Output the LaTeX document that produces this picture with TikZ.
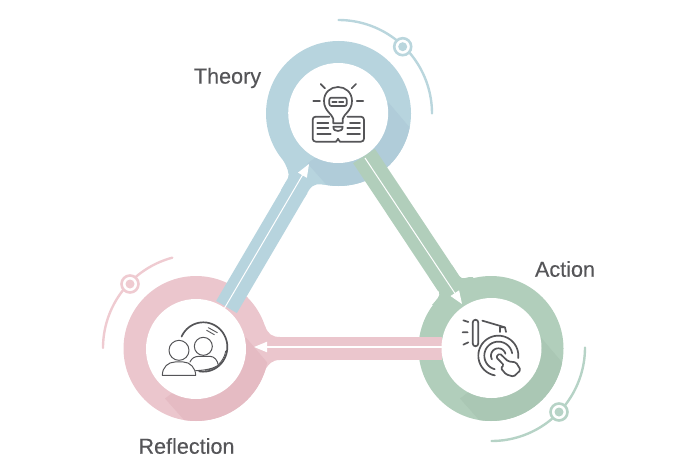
\documentclass[tikz,border=0pt]{standalone}
\usepackage{fontspec}
\setmainfont[FakeBold=0.25]{Liberation Sans}
\usetikzlibrary{arrows.meta,calc}
\definecolor{blueR}{HTML}{B7D4DE}
\definecolor{blueD}{HTML}{B0CCD9}
\definecolor{blueA}{HTML}{BAD6DD}
\definecolor{greenR}{HTML}{B1CEBB}
\definecolor{greenD}{HTML}{AAC7B4}
\definecolor{greenA}{HTML}{B6D3C6}
\definecolor{pinkR}{HTML}{EBC6CD}
\definecolor{pinkD}{HTML}{E5BBC3}
\definecolor{pinkA}{HTML}{EFCBD1}
\definecolor{ink}{HTML}{555558}
\tikzset{
  ring/.style={circle,minimum size=145pt,inner sep=0pt,fill=#1},
  hole/.style={circle,minimum size=100pt,inner sep=0pt,fill=white},
  label text/.style={font=\fontsize{21.6}{24}\selectfont,text=ink,inner sep=0pt},
  band/.style={line width=#1},
  whitearrow/.style={draw=white,line width=1pt,-{Triangle[length=13pt,width=10pt,fill=white]}},
  orbit/.style={line width=2.4pt,line cap=round,smooth},
  markerring/.style={circle,minimum size=17pt,inner sep=0pt,fill=white,line width=2.6pt,draw=#1},
  markerdot/.style={circle,minimum size=9pt,inner sep=0pt,fill=#1},
  ic/.style={draw=ink,line width=1.7pt,line cap=round,line join=round}
}
\begin{document}
\begin{tikzpicture}[x=1pt,y=-1pt]
\useasboundingbox (0,0) rectangle (690,460);
% flares, under the rings
\fill[blueR] (281,190) -- (288,178) .. controls (290,174) and (287,167) .. (283,160) -- (320,150) -- (327,185) .. controls (318,184) and (314,183) .. (309,190) -- (305,197) -- cycle;
\fill[greenR] (430,278) -- (439,292) .. controls (441,296) and (436,300) .. (432,305) -- (480,300) -- (473,277) .. controls (467,276) and (463,281) .. (459,276) -- (452,265) -- cycle;
\fill[pinkR] (280,337) .. controls (272,337) and (268,334) .. (265,326) -- (250,350) -- (264,372) .. controls (268,364) and (272,360) .. (280,360) -- cycle;
% rings
\node[ring=blueR]  (T) at (338.5,113.5) {};
\node[ring=greenR] (A) at (491,348.5) {};
\node[ring=pinkR]  (R) at (196,348.5) {};
% long shadows on rings
\foreach \n/\c in {T/blueD,A/greenD,R/pinkD}{
  \begin{scope}
    \clip (\n) circle[radius=72.5];
    \fill[\c] ($(\n)+(-31,50)$) -- ++(40,45) -- ++(107,-28) -- ++(-66,-78) -- cycle;
  \end{scope}
}
% connector coordinates
\coordinate (bs) at (226.5,307);
\coordinate (be) at (297,187);
\coordinate (gs) at (364,156);
\coordinate (ge) at (449,284);
\coordinate (ps) at (442,348.5);
\coordinate (pe) at (268,348.5);
% bands
\draw[blueR,band=24pt] (bs) -- (be);
\draw[greenR,band=26pt] (gs) -- (ge);
\draw[pinkR,band=23pt] (ps) -- (pe);
% white holes
\node[hole] (Th) at (338.2,113) {};
\node[hole] (Ah) at (491.5,348) {};
\node[hole] (Rh) at (196,349) {};
% white arrows
\coordinate (b0) at (224,309);
\coordinate (b1) at (309,164);
\coordinate (g0) at (365,158);
\coordinate (g1) at (462,304);
\coordinate (p0) at (442,347);
\coordinate (p1) at (254,347);
\draw[whitearrow] (b0) -- (b1);
\draw[whitearrow] (g0) -- (g1);
\draw[whitearrow,line width=2pt] (p0) -- (p1);
% orbits
\draw[blueA,orbit] plot[domain=90:0,samples=40] ({338.5+93.5*cos(\x)},{113.5-93.5*sin(\x)});
\draw[greenA,orbit] plot[domain=0:-90,samples=40] ({491.5+93.5*cos(\x)},{347.5-93.5*sin(\x)});
\draw[pinkA,orbit] plot[domain=180:105,samples=40] ({196.5+93.5*cos(\x)},{348-93.5*sin(\x)});
% markers
\node[markerring=blueA] (mT) at (402.7,46.7) {};
\node[markerdot=blueA] (dT) at (402.7,46.7) {};
\node[markerring=greenA] (mA) at (559,412) {};
\node[markerdot=greenA] (dA) at (559,412) {};
\node[markerring=pinkA] (mR) at (130,284) {};
\node[markerdot=pinkA] (dR) at (130,284) {};
% labels
\node[label text] (lT) at (227.5,78) {Theory};
\node[label text] (lA) at (565,269) {Action};
\node[label text] (lR) at (186.5,446) {Reflection};
% theory icon
\begin{scope}[shift={(300,75)},x=0.3333pt,y=-0.3333pt]
\draw[ic] (100,132) .. controls (98,118) and (72,108) .. (72,78) .. controls (72,52) and (92,36) .. (114,36) .. controls (136,36) and (156,52) .. (156,78) .. controls (156,108) and (130,118) .. (128,132) -- (128,145) -- (100,145) -- cycle;
\draw[ic,rounded corners=2pt] (88,68) rectangle (140,93);
\draw[ic] (97,80) -- (110,80) (117,80) -- (130,80);
\draw[ic] (62,27) -- (75,40) (168,27) -- (155,40) (40,78) -- (60,78) (170,78) -- (190,78);
\draw[ic] (100,155) -- (128,155) .. controls (128,165) and (122,168) .. (114,168) .. controls (106,168) and (100,165) .. (100,155) -- cycle;
\draw[ic,rounded corners=3pt] (88,125) -- (38,125) -- (38,200) -- (100,200) .. controls (106,200) and (112,196) .. (114,186) .. controls (116,196) and (122,200) .. (128,200) -- (192,200) -- (192,125) -- (142,125);
\draw[ic] (52,145) -- (85,145) (52,160) -- (85,160) (52,178) -- (92,178);
\draw[ic] (150,145) -- (180,145) (142,160) -- (180,160) (142,178) -- (180,178);
\end{scope}
% action icon
\begin{scope}[shift={(450,308)},x=0.3333pt,y=-0.3333pt]
\draw[ic,rounded corners=3pt] (68,35) rectangle (85,115);
\draw[ic] (97,38) -- (165,58) (150,72) -- (150,58) -- (165,58) -- (168,72);
\draw[ic] (40,37) -- (55,42) (38,73) -- (53,73) (40,110) -- (55,103);
\draw[ic] plot[domain=100:367,samples=50,smooth] ({145+60*cos(\x)},{143+60*sin(\x)});
\draw[ic] plot[domain=105:350,samples=50,smooth] ({145+42*cos(\x)},{143+42*sin(\x)});
\draw[ic] plot[domain=150:345,samples=30,smooth] ({145+22*cos(\x)},{143+22*sin(\x)});
\draw[ic,fill=white,rounded corners=1.5pt] (138,147) -- (149,136) -- (174,160) -- (198,163) -- (212,186) -- (191,206) -- (168,199) -- (152,180) -- (162,172) -- cycle;
\end{scope}
% reflection icon
\begin{scope}[shift={(155,312)},x=0.3333pt,y=-0.3333pt]
\draw[ic] plot[domain=100:-155,samples=60,smooth] ({145+72*cos(\x)},{105+74*sin(\x)});
\draw[ic,line width=0.8pt] plot[domain=85:10,samples=20,smooth] ({145+68*cos(\x)},{105+70*sin(\x)});
\draw[ic,line width=0.9pt] (160,47) -- (187,62) (155,55) -- (178,68);
\draw[ic,line width=1pt,fill=white] (145,103) circle[radius=27];
\draw[ic,line width=1pt,fill=white] (105,150) .. controls (110,138) and (120,133) .. (132,133) -- (165,133) .. controls (178,133) and (188,145) .. (190,160) .. controls (175,170) and (150,175) .. (122,176);
\draw[ic,line width=1pt,fill=white] (72,115) circle[radius=30];
\draw[ic,line width=1pt,fill=white] (22,190) .. controls (22,165) and (40,150) .. (60,150) -- (85,150) .. controls (105,150) and (122,168) .. (122,190) -- cycle;
\end{scope}
\end{tikzpicture}
\end{document}
